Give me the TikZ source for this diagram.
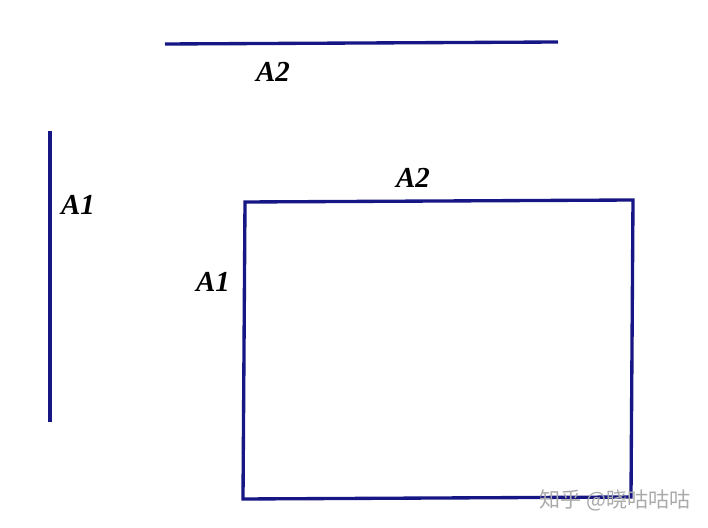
\documentclass[tikz,border=0pt]{standalone}
\usepackage{fontspec}
\setmainfont{Liberation Serif}
\newfontfamily\cjk{Noto Sans CJK SC}
\usepackage{tikz}
\usetikzlibrary{positioning}
\definecolor{edgenavy}{RGB}{22,22,132}
\definecolor{markgray}{RGB}{170,170,170}

\begin{document}
\begin{tikzpicture}
    \useasboundingbox (0,0) rectangle (14.16,10.56);
    \tikzset{
        side/.style={edgenavy, line width=1.9pt},
        sidelabel/.style={font=\fontsize{16.5}{18}\selectfont\bfseries\itshape}
    }

    % Loose segments
    \coordinate (P1) at (3.30,9.68);
    \coordinate (P2) at (11.16,9.72);
    \coordinate (Q1) at (1.00,7.94);
    \coordinate (Q2) at (1.00,2.12);
    \draw[side] (P1) -- (P2);
    \draw[side] (Q1) -- (Q2);
    \node[sidelabel] (a2top) at (5.46,9.12) {A2};
    \node[sidelabel] (a1left) at (1.56,6.46) {A1};

    % Rectangle built from A1 x A2
    \coordinate (R1) at (4.90,6.52);
    \coordinate (R2) at (12.66,6.56);
    \coordinate (R3) at (12.62,0.62);
    \coordinate (R4) at (4.86,0.58);
    \draw[side] (R1) -- (R2) -- (R3) -- (R4) -- cycle;
    \node[sidelabel] (a2rect) at (8.26,7.00) {A2};
    \node[sidelabel] (a1rect) at (4.26,4.92) {A1};

    % Watermark
    \node[font=\cjk\fontsize{12}{14}\selectfont, color=markgray] (mark) at (12.30,0.56) {知乎 @晓咕咕咕};
\end{tikzpicture}
\end{document}
